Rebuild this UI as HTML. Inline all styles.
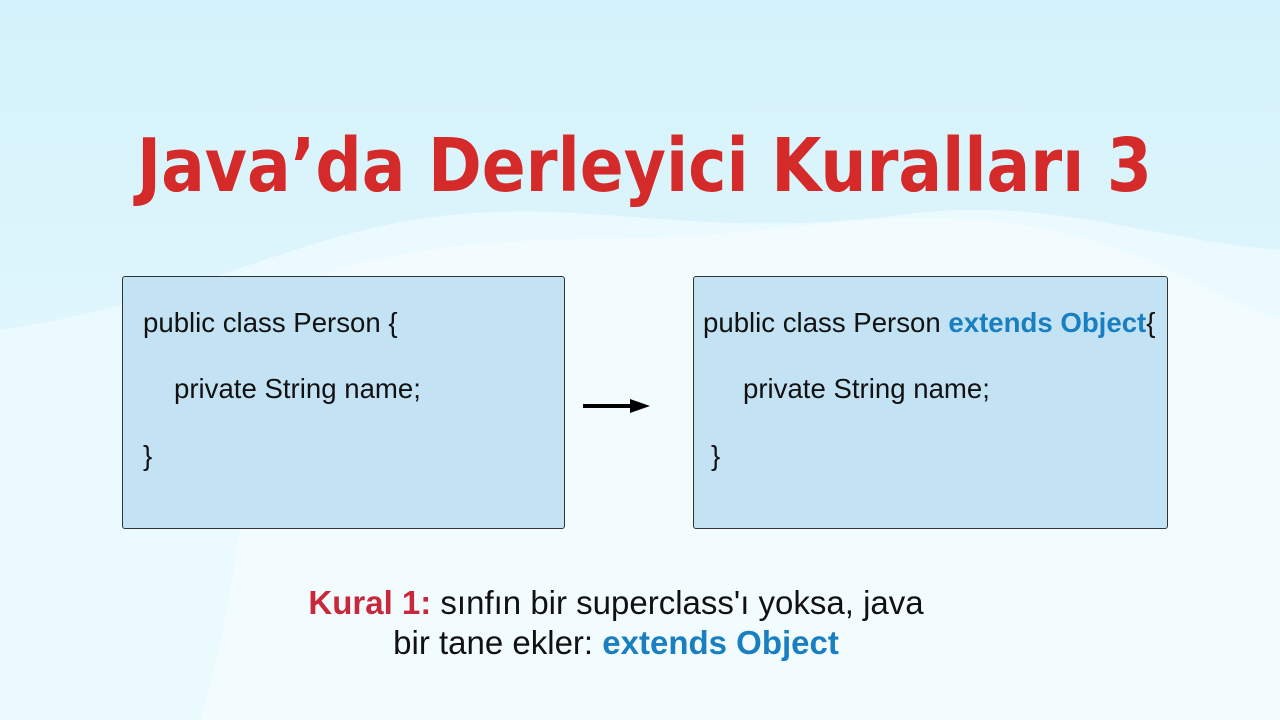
<!DOCTYPE html>
<html><head><meta charset="utf-8"><style>
body{margin:0;width:1280px;height:720px;overflow:hidden;position:relative;font-family:"Liberation Sans",sans-serif;background:linear-gradient(180deg,#d4f2fb 0%,#e2f7fc 60%,#d9f4fb 100%);}
.box{position:absolute;background:#c3e3f5;border:1.5px solid #333;border-radius:3px;box-sizing:border-box;}
.t{position:absolute;font-size:27.6px;color:#111;white-space:nowrap;}
.b{color:#1a7fc0;font-weight:bold;}
</style></head><body>
<svg width="1280" height="720" style="position:absolute;left:0;top:0">
<path d="M0 330 C200 300 300 230 450 215 C600 200 700 240 900 215 C1050 195 1150 240 1280 250 L1280 720 L0 720Z" fill="#eefbfe" opacity="0.8"/>
<path d="M280 290 C400 240 520 240 640 238 C800 235 900 200 1050 230 C1150 250 1220 300 1280 320 L1280 720 L200 720 C240 600 250 400 280 290Z" fill="#f4fcff" opacity="0.8"/>
<text x="137" y="191" textLength="1015" lengthAdjust="spacingAndGlyphs" font-family="DejaVu Sans, sans-serif" font-weight="bold" font-size="74" fill="#d42a2a">Java’da Derleyici Kuralları 3</text>
<line x1="583" y1="406" x2="632" y2="406" stroke="#000" stroke-width="4"/>
<polygon points="630,399 650,406 630,413" fill="#000"/>
</svg>
<div class="box" style="left:122px;top:276px;width:443px;height:253px"></div>
<div class="box" style="left:693px;top:276px;width:475px;height:253px"></div>
<div class="t" style="left:143px;top:307px">public class Person {</div>
<div class="t" style="left:174px;top:373px">private String name;</div>
<div class="t" style="left:143px;top:440px">}</div>
<div class="t" style="left:703px;top:307px">public class Person <span class="b">extends Object</span>{</div>
<div class="t" style="left:743px;top:373px">private String name;</div>
<div class="t" style="left:711px;top:440px">}</div>
<div class="t" style="left:0;width:1232px;text-align:center;top:584px;font-size:33px"><b style="color:#c8283c">Kural 1:</b> sınfın bir superclass'ı yoksa, java</div>
<div class="t" style="left:0;width:1232px;text-align:center;top:624px;font-size:33px">bir tane ekler: <span class="b">extends Object</span></div>
</body></html>
